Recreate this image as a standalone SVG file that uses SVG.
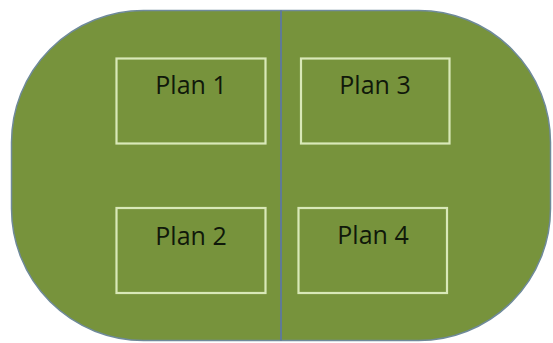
<svg xmlns="http://www.w3.org/2000/svg" width="553" height="343" viewBox="0 0 553 343">
<style>
.field{fill:#77933c;stroke:#6f8a9a;stroke-width:1.5}
.plan rect{fill:none;stroke:#d9e8b8;stroke-width:2.2}
.plan text{font-family:"Open Sans","Liberation Sans",sans-serif;font-size:25px;fill:#10180a;text-anchor:middle}
</style>
<rect width="553" height="343" fill="#ffffff"/>
<rect class="field" x="11.5" y="10.5" width="539" height="330" rx="132" ry="132"/>
<g id="divider"><line x1="281" y1="10.5" x2="281" y2="340.5" stroke="#5f7a96" stroke-width="2"/></g>
<g id="plan1" class="plan"><rect x="116.5" y="58.5" width="149" height="85"/><text x="191" y="94">Plan 1</text></g>
<g id="plan3" class="plan"><rect x="301" y="58.5" width="148.5" height="85"/><text x="375" y="94">Plan 3</text></g>
<g id="plan2" class="plan"><rect x="116.5" y="208" width="149" height="85"/><text x="191" y="245">Plan 2</text></g>
<g id="plan4" class="plan"><rect x="298.5" y="208" width="148.5" height="85"/><text x="373" y="244">Plan 4</text></g>
</svg>
